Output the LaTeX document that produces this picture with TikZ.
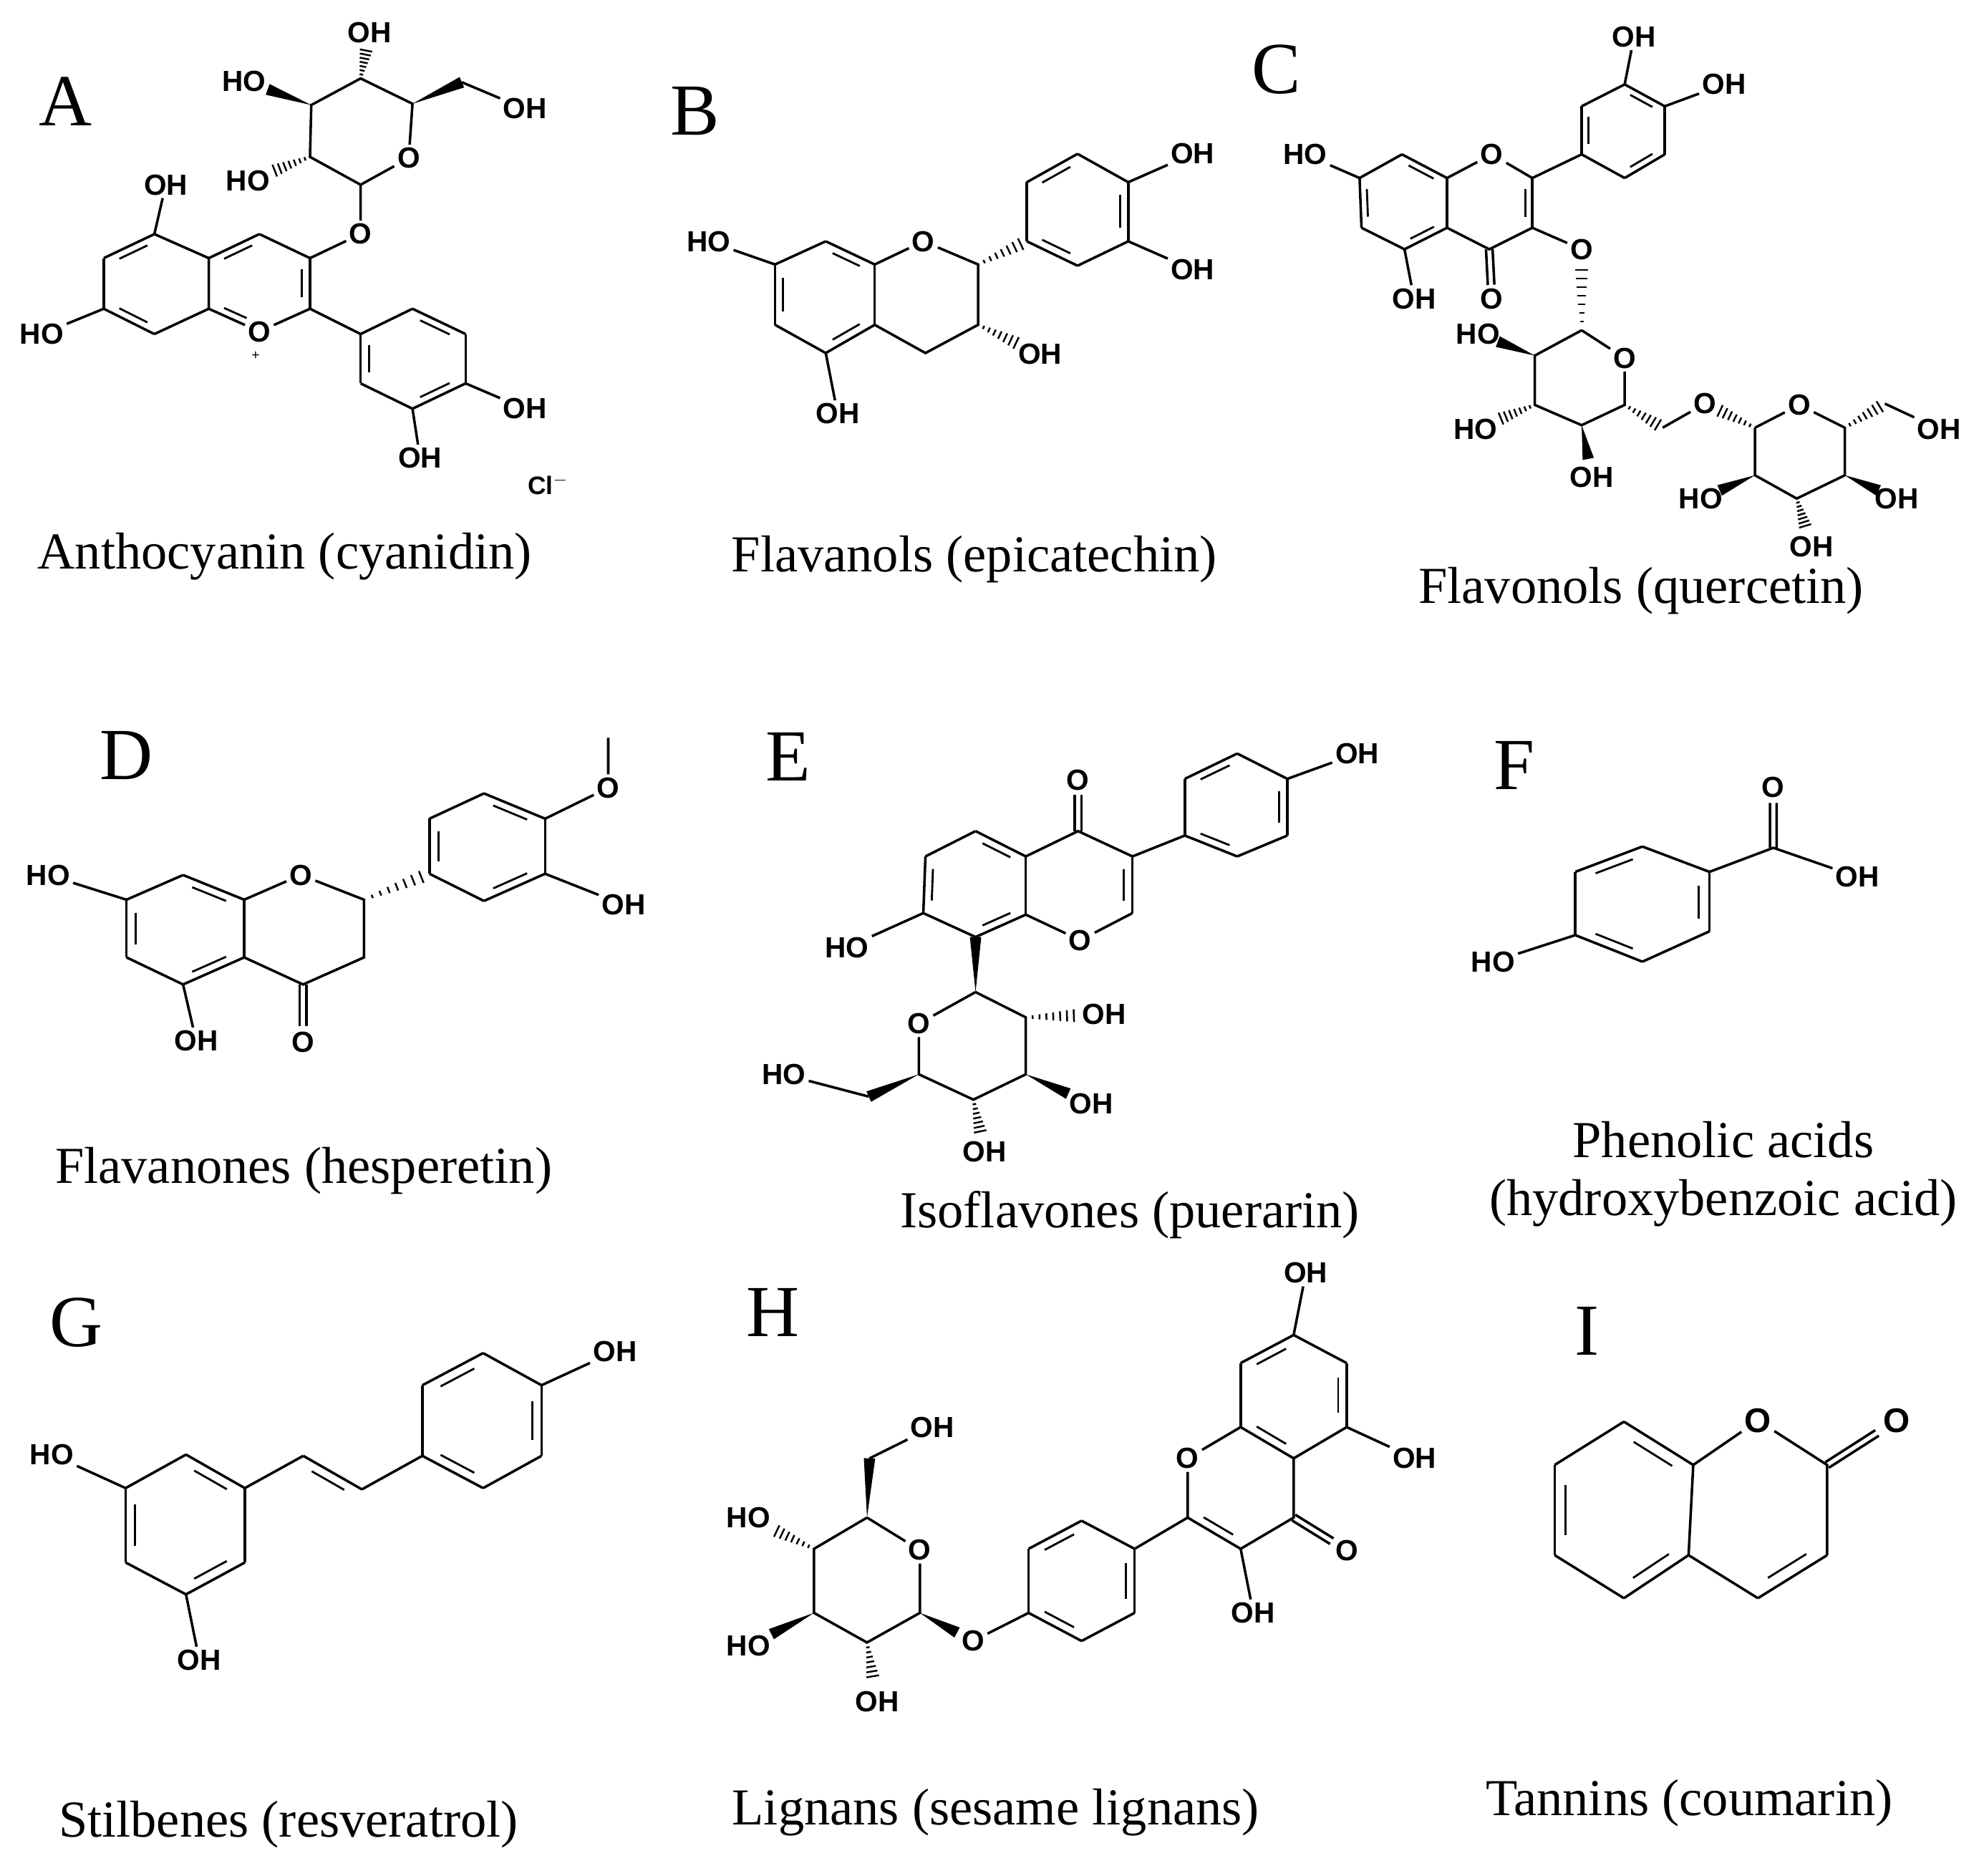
\documentclass[tikz,border=0pt]{standalone}
\usepackage{fontspec}
\setmainfont{Liberation Serif}
\newfontfamily\atomfam{Liberation Sans}
\usetikzlibrary{calc}
\newcommand\atomfont{\atomfam\bfseries\fontsize{23}{23}\selectfont}
\newcommand\capfont{\fontsize{41}{46}\selectfont}
\newcommand\letfont{\fontsize{58}{58}\selectfont}
\newcommand\dbd[3]{\draw (#1)--(#2); \draw[line width=1.6pt] ($(#1)!0.17!(#2)!0.16!(#3)$)--($(#2)!0.17!(#1)!0.16!(#3)$);}
\newcommand\cdb[3]{\draw ($(#1)!2.6pt!90:(#2)$)--($(#1)!#3!(#2)!2.6pt!-90:(#1)$); \draw ($(#1)!2.6pt!-90:(#2)$)--($(#1)!#3!(#2)!2.6pt!90:(#1)$);}
\newcommand\hsb[3]{\foreach \hi in {1,...,7}{\pgfmathsetmacro\hT{(\hi/8)*#3}\pgfmathsetmacro\hW{0.8+\hi*0.6}\draw[line width=1.4pt] ($(#1)!\hT!(#2)!\hW pt!90:(#1)$)--($(#1)!\hT!(#2)!\hW pt!-90:(#1)$);}}
\newcommand\wdg[3]{\fill (#1) -- ($(#1)!#3!(#2)!4.5pt!90:(#1)$) -- ($(#1)!#3!(#2)!4.5pt!-90:(#1)$) -- cycle;}
\begin{document}
\begin{tikzpicture}[x=1pt,y=-1pt,line width=2pt,
  atom/.style={font=\atomfont,inner sep=1.5pt},
  captxt/.style={font=\capfont,align=center},
  lettxt/.style={font=\letfont}]
\useasboundingbox[fill=white] (0,0) rectangle (1568,1482);
% ---------- letters and captions
\node[lettxt] (LA) at (52,80) {A};
\node[lettxt] (LB) at (549,88) {B};
\node[lettxt] (LC) at (1009,55) {C};
\node[lettxt] (LD) at (100,597) {D};
\node[lettxt] (LE) at (623,598) {E};
\node[lettxt] (LF) at (1197,605) {F};
\node[lettxt] (LG) at (60,1045) {G};
\node[lettxt] (LH) at (611,1037) {H};
\node[lettxt] (LI) at (1254,1052) {I};
\node[captxt] (CA) at (225,440) {Anthocyanin (cyanidin)};
\node[captxt] (CB) at (770,442) {Flavanols (epicatechin)};
\node[captxt] (CC) at (1297,467) {Flavonols (quercetin)};
\node[captxt] (CD) at (240,925) {Flavanones (hesperetin)};
\node[captxt] (CE) at (893,960) {Isoflavones (puerarin)};
\node[captxt] (CF) at (1362,928) {Phenolic acids\\(hydroxybenzoic acid)};
\node[captxt] (CG) at (228,1442) {Stilbenes (resveratrol)};
\node[captxt] (CH) at (787,1432) {Lignans (sesame lignans)};
\node[captxt] (CI) at (1335,1425) {Tannins (coumarin)};
% ================= A
\coordinate (a5) at (122,185); \coordinate (a6) at (82,204); \coordinate (a7) at (82,244);
\coordinate (a8) at (122,264); \coordinate (a8a) at (165,244); \coordinate (a4a) at (165,204);
\coordinate (a4) at (205,185); \coordinate (a3) at (245,204); \coordinate (a2) at (245,244);
\coordinate (aRA) at (123.5,224); \coordinate (aRC) at (205,224); \coordinate (aRB) at (326.5,283.5);
\node[atom] (aO1) at (205,262) {O};
\node[font=\atomfam\fontsize{11}{11}\selectfont,inner sep=0pt] (aplus) at (202,281) {+};
\node[atom] (aOH5) at (131,146) {OH};
\node[atom] (aHO7) at (33,264) {HO};
\node[atom] (aOg) at (285,185) {O};
\coordinate (as1) at (285,146); \node[atom] (asO) at (323,125) {O};
\coordinate (as5) at (326,82); \coordinate (as4) at (285,62); \coordinate (as3) at (246,83); \coordinate (as2) at (245,124);
\coordinate (as6) at (365,65);
\node[atom] (asOH4) at (292,26) {OH}; \node[atom] (asHO3) at (193,64) {HO};
\node[atom] (asHO2) at (196,143) {HO}; \node[atom] (asOH6) at (415,86) {OH};
\coordinate (ab1) at (285,264); \coordinate (ab2) at (326,244); \coordinate (ab3) at (368,264);
\coordinate (ab4) at (368,303); \coordinate (ab5) at (326,323); \coordinate (ab6) at (285,303);
\node[atom] (abOH4) at (415,323) {OH}; \node[atom] (abOH5) at (332,362) {OH};
\node[font=\atomfam\bfseries\fontsize{20}{20}\selectfont] (aCl) at (433,383) {Cl$^{-}$};
\dbd{a5}{a6}{aRA} \draw (a6)--(a7); \dbd{a7}{a8}{aRA} \draw (a8)--(a8a)--(a4a)--(a5);
\dbd{a4a}{a4}{aRC} \draw (a4)--(a3); \dbd{a3}{a2}{aRC} \draw (a2)--(aO1);
\draw (aO1)--(a8a); \draw[line width=1.6pt] ($(a8a)!0.17!(aO1)!0.16!(aRC)$)--($(aO1)!0.3!(a8a)!0.16!(aRC)$);
\draw (a5)--(aOH5); \draw (a7)--(aHO7); \draw (a3)--(aOg)--(as1);
\draw (as1)--(asO)--(as5)--(as4)--(as3)--(as2)--(as1);
\wdg{as5}{as6}{1} \draw (as6)--(asOH6);
\hsb{as4}{asOH4}{0.7} \wdg{as3}{asHO3}{0.65} \hsb{as2}{asHO2}{0.65}
\draw (a2)--(ab1); \draw (ab1)--(ab2); \dbd{ab2}{ab3}{aRB} \draw (ab3)--(ab4); \dbd{ab4}{ab5}{aRB} \draw (ab5)--(ab6); \dbd{ab6}{ab1}{aRB}
\draw (ab4)--(abOH4); \draw (ab5)--(abOH5);
% ================= B
\coordinate (b8) at (652.6,190.7); \coordinate (b7) at (612.5,209); \coordinate (b6) at (612.5,256.7);
\coordinate (b5) at (652.6,279); \coordinate (b4a) at (691.3,256.7); \coordinate (b8a) at (691.3,209);
\coordinate (bRA) at (652,233); \coordinate (bRB) at (851.6,166);
\node[atom] (bHO7) at (560,190.7) {HO}; \node[atom] (bOH5) at (662,327) {OH};
\node[atom] (bO1) at (729.8,190.7) {O};
\coordinate (b2) at (773,209); \coordinate (b3) at (773,256.7); \coordinate (b4) at (731.4,279);
\node[atom] (bOH3) at (822,280) {OH};
\coordinate (bb1) at (811.5,190.7); \coordinate (bb2) at (811.5,144); \coordinate (bb3) at (851.6,121.6);
\coordinate (bb4) at (891.7,144); \coordinate (bb5) at (891.7,190.7); \coordinate (bb6) at (851.6,210);
\node[atom] (bbOH4) at (942.6,121.6) {OH}; \node[atom] (bbOH5) at (942.6,213) {OH};
\dbd{b8}{b8a}{bRA} \draw (b8)--(b7); \dbd{b7}{b6}{bRA} \draw (b6)--(b5); \dbd{b5}{b4a}{bRA} \draw (b4a)--(b8a);
\draw (b8a)--(bO1)--(b2)--(b3)--(b4)--(b4a);
\draw (b7)--(bHO7); \draw (b5)--(bOH5);
\hsb{b3}{bOH3}{0.7} \hsb{b2}{bb1}{1}
\draw (bb1)--(bb2); \dbd{bb2}{bb3}{bRB} \draw (bb3)--(bb4); \dbd{bb4}{bb5}{bRB} \draw (bb5)--(bb6); \dbd{bb6}{bb1}{bRB}
\draw (bb4)--(bbOH4); \draw (bb5)--(bbOH5);
% ================= C
\coordinate (c8) at (1108,122); \coordinate (c7) at (1074.5,140.7); \coordinate (c6) at (1076,180);
\coordinate (c5) at (1110,197); \coordinate (c4a) at (1143.6,180); \coordinate (c8a) at (1143.6,140.7);
\coordinate (cRA) at (1109,160); \coordinate (cRC) at (1177,160); \coordinate (cRB) at (1283,103);
\node[atom] (cHO7) at (1031.5,122) {HO}; \node[atom] (cOH5) at (1117.5,236) {OH};
\node[atom] (cO1) at (1179,122) {O};
\coordinate (c2) at (1211,140.7); \coordinate (c3) at (1211,180); \coordinate (c4) at (1177,197);
\node[atom] (cO4) at (1179,236) {O}; \node[atom] (cO3) at (1250,197) {O};
\coordinate (cb1) at (1250,122); \coordinate (cb2) at (1250,84); \coordinate (cb3) at (1284,66.7);
\coordinate (cb4) at (1315.7,84); \coordinate (cb5) at (1315.7,122); \coordinate (cb6) at (1284,140.7);
\node[atom] (cbOH3) at (1291.4,29) {OH}; \node[atom] (cbOH4) at (1362.5,66.7) {OH};
\dbd{c8}{c8a}{cRA} \draw (c8)--(c7); \dbd{c7}{c6}{cRA} \draw (c6)--(c5); \dbd{c5}{c4a}{cRA} \draw (c4a)--(c8a);
\draw (c8a)--(cO1)--(c2); \dbd{c2}{c3}{cRC} \draw (c3)--(c4)--(c4a);
\cdb{c4}{cO4}{0.72}
\draw (c7)--(cHO7); \draw (c5)--(cOH5); \draw (c3)--(cO3); \draw (c2)--(cb1);
\dbd{cb1}{cb2}{cRB} \draw (cb2)--(cb3); \dbd{cb3}{cb4}{cRB} \draw (cb4)--(cb5); \dbd{cb5}{cb6}{cRB} \draw (cb6)--(cb1);
\draw (cb3)--(cbOH3); \draw (cb4)--(cbOH4);
\coordinate (cs1) at (1250,261); \node[atom] (csO) at (1284,283) {O};
\coordinate (cs5) at (1284,320); \coordinate (cs4) at (1250,336); \coordinate (cs3) at (1213,320); \coordinate (cs2) at (1213,281);
\coordinate (cs6) at (1314,338); \node[atom] (cO6) at (1347.5,319) {O};
\node[atom] (csHO2) at (1168,264) {HO}; \node[atom] (csHO3) at (1166,339) {HO}; \node[atom] (csOH4) at (1258,377) {OH};
\hsb{cs1}{cO3}{0.85}
\draw (cs1)--(csO)--(cs5)--(cs4)--(cs3)--(cs2)--(cs1);
\wdg{cs2}{csHO2}{0.65} \hsb{cs3}{csHO3}{0.65} \wdg{cs4}{csOH4}{0.65}
\hsb{cs5}{cs6}{1} \draw (cs6)--(cO6);
\coordinate (ct1) at (1387,338); \node[atom] (ctO) at (1422,320) {O};
\coordinate (ct5) at (1458,338); \coordinate (ct4) at (1458,375.6); \coordinate (ct3) at (1420,394); \coordinate (ct2) at (1387,375.6);
\coordinate (ct6) at (1489.6,319); \node[atom] (ctOH6) at (1532.6,339) {OH};
\node[atom] (ctHO2) at (1344,394) {HO}; \node[atom] (ctOH4) at (1499,394) {OH}; \node[atom] (ctOH3) at (1431.6,432) {OH};
\hsb{ct1}{cO6}{0.8}
\draw (ct1)--(ctO)--(ct5)--(ct4)--(ct3)--(ct2)--(ct1);
\hsb{ct5}{ct6}{1} \draw (ct6)--(ctOH6);
\wdg{ct2}{ctHO2}{0.65} \wdg{ct4}{ctOH4}{0.65} \hsb{ct3}{ctOH3}{0.65}
% ================= D
\coordinate (d8) at (144.7,691.5); \coordinate (d7) at (100,711); \coordinate (d6) at (100,756.6);
\coordinate (d5) at (144.7,778); \coordinate (d4a) at (193,756.6); \coordinate (d8a) at (193,711);
\coordinate (dRA) at (146.5,734.5); \coordinate (dRB) at (385,669);
\node[atom] (dHO7) at (38,691.5) {HO}; \node[atom] (dOH5) at (155,822.6) {OH};
\node[atom] (dO1) at (237.8,691.5) {O};
\coordinate (d2) at (287.7,711); \coordinate (d3) at (287.7,756.6); \coordinate (d4) at (239.5,778);
\node[atom] (dO4) at (239.5,823.6) {O};
\coordinate (db1) at (339.4,690.5); \coordinate (db2) at (339.4,647); \coordinate (db3) at (382.5,627);
\coordinate (db4) at (430.8,647); \coordinate (db5) at (430.8,690.5); \coordinate (db6) at (382.5,712);
\node[atom] (dOme) at (480.7,622.6) {O}; \coordinate (dme) at (480.7,583); \node[atom] (dOH) at (492.8,715) {OH};
\dbd{d8}{d8a}{dRA} \draw (d8)--(d7); \dbd{d7}{d6}{dRA} \draw (d6)--(d5); \dbd{d5}{d4a}{dRA} \draw (d4a)--(d8a);
\draw (d8a)--(dO1)--(d2)--(d3)--(d4)--(d4a);
\cdb{d4}{dO4}{0.72}
\draw (d7)--(dHO7); \draw (d5)--(dOH5);
\hsb{d2}{db1}{1}
\dbd{db1}{db2}{dRB} \draw (db2)--(db3); \dbd{db3}{db4}{dRB} \draw (db4)--(db5); \dbd{db5}{db6}{dRB} \draw (db6)--(db1);
\draw (db4)--(dOme)--(dme); \draw (db5)--(dOH);
% ================= E
\coordinate (e5) at (771,656.8); \coordinate (e6) at (731.4,676.8); \coordinate (e7) at (729.7,721.6);
\coordinate (e8) at (771,740.5); \coordinate (e8a) at (810.7,722.8); \coordinate (e4a) at (810.7,676.8);
\coordinate (eRA) at (770,699); \coordinate (eRC) at (852,699); \coordinate (eRB) at (977,636);
\node[atom] (eHO7) at (669.4,748.7) {HO};
\coordinate (e4) at (852,656.8); \node[atom] (eO4) at (852,616.7) {O};
\coordinate (e3) at (895,676.8); \coordinate (e2) at (895,721.6); \node[atom] (eO1) at (853.7,743) {O};
\coordinate (eb1) at (936.4,660.3); \coordinate (eb2) at (936.4,615.5); \coordinate (eb3) at (977.8,595.5);
\coordinate (eb4) at (1017.4,615.5); \coordinate (eb5) at (1017.4,660.3); \coordinate (eb6) at (977.8,676.8);
\node[atom] (ebOH) at (1072.6,595.5) {OH};
\dbd{e5}{e4a}{eRA} \draw (e5)--(e6); \dbd{e6}{e7}{eRA} \draw (e7)--(e8); \dbd{e8}{e8a}{eRA} \draw (e8a)--(e4a);
\draw (e4a)--(e4)--(e3); \dbd{e3}{e2}{eRC} \draw (e2)--(eO1)--(e8a);
\cdb{e4}{eO4}{0.72}
\draw (e7)--(eHO7); \draw (e3)--(eb1);
\draw (eb1)--(eb2); \dbd{eb2}{eb3}{eRB} \draw (eb3)--(eb4); \dbd{eb4}{eb5}{eRB} \draw (eb5)--(eb6); \dbd{eb6}{eb1}{eRB}
\draw (eb4)--(ebOH);
\coordinate (es1) at (771,784); \node[atom] (esO) at (726.2,808.9) {O};
\coordinate (es5) at (726.2,849); \coordinate (es4) at (769.3,869); \coordinate (es3) at (810.7,849); \coordinate (es2) at (810.7,804);
\coordinate (es6) at (686.6,866.6);
\node[atom] (esOH2) at (872.7,801.8) {OH}; \node[atom] (esOH3) at (862.4,872.5) {OH};
\node[atom] (esOH4) at (778,910) {OH}; \node[atom] (esHO6) at (619.4,849) {HO};
\wdg{es1}{e8}{1}
\draw (es1)--(esO)--(es5)--(es4)--(es3)--(es2)--(es1);
\hsb{es2}{esOH2}{0.7} \wdg{es3}{esOH3}{0.65} \hsb{es4}{esOH4}{0.7}
\wdg{es5}{es6}{1} \draw (es6)--(esHO6);
% ================= F
\coordinate (f1) at (1245,689); \coordinate (f2) at (1298,669); \coordinate (f3) at (1351,689);
\coordinate (f4) at (1351,736); \coordinate (f5) at (1298,760); \coordinate (f6) at (1245,739);
\coordinate (fR) at (1298,714); \coordinate (fc) at (1401.5,670);
\node[atom] (fO) at (1401.5,622) {O}; \node[atom] (fOH) at (1468,693) {OH}; \node[atom] (fHO) at (1180,760) {HO};
\dbd{f1}{f2}{fR} \draw (f2)--(f3); \dbd{f3}{f4}{fR} \draw (f4)--(f5); \dbd{f5}{f6}{fR} \draw (f6)--(f1);
\draw (f3)--(fc)--(fOH); \cdb{fc}{fO}{0.74} \draw (f6)--(fHO);
% ================= G
\coordinate (g1) at (147,1149.5); \coordinate (g2) at (99.3,1176); \coordinate (g3) at (99.3,1234.8);
\coordinate (g4) at (147,1260); \coordinate (g5) at (193.5,1234.8); \coordinate (g6) at (193.5,1176);
\coordinate (gR1) at (146,1205); \coordinate (gR2) at (381,1123); \coordinate (gV) at (240,1203);
\node[atom] (gHO) at (41,1149.5) {HO}; \node[atom] (gOH) at (157.5,1312) {OH};
\coordinate (gv1) at (239.7,1150.5); \coordinate (gv2) at (286,1177);
\coordinate (gr1) at (333.8,1150.5); \coordinate (gr2) at (333.8,1094.7); \coordinate (gr3) at (381.8,1069.3);
\coordinate (gr4) at (428,1094.7); \coordinate (gr5) at (428,1150.5); \coordinate (gr6) at (381.8,1176);
\node[atom] (grOH) at (486,1068) {OH};
\dbd{g1}{g6}{gR1} \draw (g1)--(g2); \dbd{g2}{g3}{gR1} \draw (g3)--(g4); \dbd{g4}{g5}{gR1} \draw (g5)--(g6);
\draw (g2)--(gHO); \draw (g4)--(gOH);
\draw (g6)--(gv1); \dbd{gv1}{gv2}{gV} \draw (gv2)--(gr1);
\dbd{gr1}{gr6}{gR2} \draw (gr1)--(gr2); \dbd{gr2}{gr3}{gR2} \draw (gr3)--(gr4); \dbd{gr4}{gr5}{gR2} \draw (gr5)--(gr6);
\draw (gr4)--(grOH);
% ================= H
\coordinate (hs5) at (685.2,1199.3); \node[atom] (hsO) at (727,1225) {O};
\coordinate (hs1) at (727,1274.6); \coordinate (hs2) at (685.2,1298); \coordinate (hs3) at (643.3,1274.6); \coordinate (hs4) at (643.3,1224);
\coordinate (hs6) at (687.2,1152.5);
\node[atom] (hsOH6) at (737,1127.8) {OH}; \node[atom] (hsHO4) at (591.5,1199.3) {HO};
\node[atom] (hsHO3) at (591.5,1300.5) {HO}; \node[atom] (hsOH2) at (693.2,1345) {OH};
\node[atom] (hOg) at (769,1296.8) {O};
\draw (hs5)--(hsO)--(hs1)--(hs2)--(hs3)--(hs4)--(hs5);
\wdg{hs5}{hs6}{1} \draw (hs6)--(hsOH6);
\hsb{hs4}{hsHO4}{0.65} \wdg{hs3}{hsHO3}{0.65} \hsb{hs2}{hsOH2}{0.65} \wdg{hs1}{hOg}{0.7}
\coordinate (hp1) at (812.9,1274.6); \coordinate (hp2) at (812.9,1224); \coordinate (hp3) at (854.8,1201.8);
\coordinate (hp4) at (896.7,1224); \coordinate (hp5) at (896.7,1274.6); \coordinate (hp6) at (854.8,1296.8);
\coordinate (hRP) at (854.8,1249);
\draw (hOg)--(hp1); \draw (hp1)--(hp2); \dbd{hp2}{hp3}{hRP} \draw (hp3)--(hp4); \dbd{hp4}{hp5}{hRP} \draw (hp5)--(hp6); \dbd{hp6}{hp1}{hRP}
\coordinate (h2) at (938.6,1199.3); \node[atom] (hO1) at (938.6,1152.5) {O};
\coordinate (h8a) at (980.5,1127.8); \coordinate (h4a) at (1022.4,1152.5); \coordinate (h4) at (1022.4,1199.3); \coordinate (h3) at (980.5,1224);
\node[atom] (hO4) at (1064.3,1225.2) {O}; \node[atom] (hOH3) at (990.5,1274.6) {OH};
\coordinate (hRC) at (980.5,1176); \coordinate (hRA) at (1022.4,1103);
\coordinate (h8) at (980.5,1077.2); \coordinate (h7) at (1022.4,1055); \coordinate (h6) at (1064.3,1077.2); \coordinate (h5) at (1064.3,1127.8);
\node[atom] (hOH7) at (1032,1006) {OH}; \node[atom] (hOH5) at (1118,1152.5) {OH};
\draw (hp4)--(h2)--(hO1)--(h8a); \dbd{h8a}{h4a}{hRA} \draw (h4a)--(h4)--(h3); \dbd{h3}{h2}{hRC}
\cdb{h4}{hO4}{0.72} \draw (h3)--(hOH3);
\draw (h8a)--(h8); \dbd{h8}{h7}{hRA} \draw (h7)--(h6); \dbd{h6}{h5}{hRA} \draw (h5)--(h4a);
\draw (h7)--(hOH7); \draw (h5)--(hOH5);
% ================= I
\coordinate (i1) at (1283.4,1123.5); \coordinate (i2) at (1228.7,1157.7); \coordinate (i3) at (1228.7,1229);
\coordinate (i4) at (1283.4,1263); \coordinate (i5) at (1334.5,1229); \coordinate (i6) at (1338.2,1157.7);
\coordinate (iRA) at (1283,1193); \coordinate (iRC) at (1390,1193);
\node[atom,font=\atomfam\bfseries\fontsize{27}{27}\selectfont] (iO1) at (1389.3,1122.6) {O};
\node[atom,font=\atomfam\bfseries\fontsize{27}{27}\selectfont] (iO) at (1498.8,1122.6) {O};
\coordinate (ic2) at (1444,1157.7); \coordinate (ic3) at (1444,1229); \coordinate (ic4) at (1389.3,1263);
\dbd{i1}{i6}{iRA} \draw (i1)--(i2); \dbd{i2}{i3}{iRA} \draw (i3)--(i4); \dbd{i4}{i5}{iRA} \draw (i5)--(i6);
\draw (i6)--(iO1)--(ic2)--(ic3); \dbd{ic3}{ic4}{iRC} \draw (ic4)--(i5);
\cdb{ic2}{iO}{0.72}
\end{tikzpicture}
\end{document}
